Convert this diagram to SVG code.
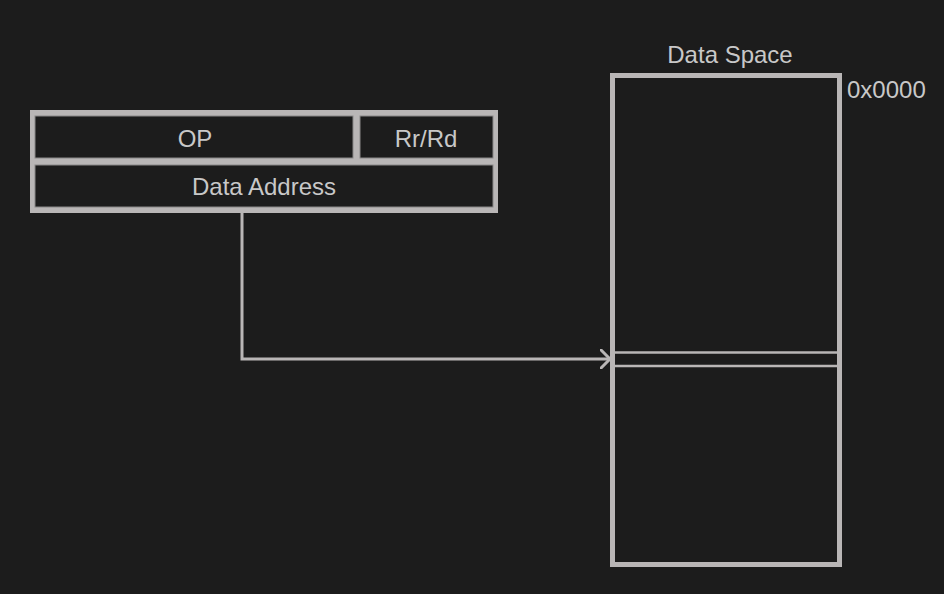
<svg xmlns="http://www.w3.org/2000/svg" width="944" height="594" viewBox="0 0 944 594">
<style>
.t{font-family:"Liberation Sans",Arial,sans-serif;font-size:24px;fill:#c8c8c8}
.cell{fill:#1c1c1c;stroke:#8a8888;stroke-width:1}
.ln{stroke:#b9b6b6;fill:none}
</style>
<defs>
<marker id="arr" markerWidth="12" markerHeight="20" refX="10" refY="10" orient="auto" markerUnits="userSpaceOnUse">
<path d="M1,1 L10,10 L1,19" fill="none" stroke="#b9b6b6" stroke-width="3" stroke-linecap="round" stroke-linejoin="round"/>
</marker>
</defs>
<rect width="944" height="594" fill="#1c1c1c"/>
<g id="instruction">
<rect x="30" y="110" width="468" height="103" fill="#b9b6b6"/>
<rect class="cell" x="35" y="116" width="318" height="42"/>
<rect class="cell" x="360" y="116" width="133" height="42"/>
<rect class="cell" x="35" y="165" width="458" height="42"/>
<text class="t" x="195" y="147" text-anchor="middle">OP</text>
<text class="t" x="426" y="147" text-anchor="middle">Rr/Rd</text>
<text class="t" x="264" y="195" text-anchor="middle">Data Address</text>
</g>
<g id="dataspace">
<rect class="ln" x="612.5" y="75.5" width="227" height="489" stroke-width="5"/>
<line class="ln" x1="613" y1="352.5" x2="839" y2="352.5" stroke-width="2.5"/>
<line class="ln" x1="613" y1="366" x2="839" y2="366" stroke-width="2.5"/>
<text class="t" x="730" y="63" text-anchor="middle">Data Space</text>
<text class="t" x="847" y="98">0x0000</text>
</g>
<g id="connectors">
<path class="ln" d="M242,213 V359 H610" stroke-width="3" marker-end="url(#arr)"/>
</g>
</svg>
